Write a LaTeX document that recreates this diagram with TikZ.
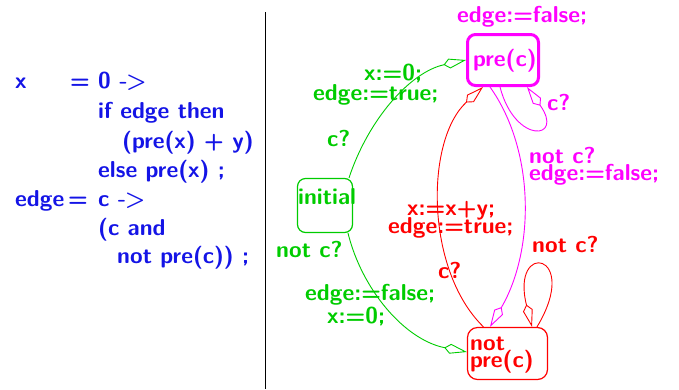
\documentclass[tikz,border=0pt]{standalone}
\usetikzlibrary{arrows.meta}
\definecolor{cblue}{RGB}{20,20,230}
\definecolor{cgreen}{RGB}{0,204,0}
\definecolor{cmag}{RGB}{255,0,255}
\definecolor{cred}{RGB}{255,0,0}
\newcommand{\myarr}{-\kern-1.5pt>}
\begin{document}
\begin{tikzpicture}[x=1pt,y=-1pt,
  txt/.style={inner sep=0pt, anchor=base west, font=\fontsize{23}{20}\selectfont\sffamily\bfseries},
  box/.style={draw, rounded corners=8pt, inner sep=0pt},
  tr/.style={-{Kite[open,length=23pt,width=10pt,inset=6pt]}, line width=0.9pt},
]
\useasboundingbox (0,0) rectangle (679,389);
% separator
\draw[line width=1pt] (265,12) coordinate (s1) -- (265,389) coordinate (s2);
% program text
\begin{scope}[cblue]
\node[txt] (l1a) at (15,88) {x};
\node[txt] (l1b) at (70,88) {=};
\node[txt] (l1c) at (98,88) {0 \myarr};
\node[txt] (l2) at (98,118) {if edge then};
\node[txt] (l3) at (122,148) {(pre(x) + y)};
\node[txt] (l4) at (98,177) {else pre(x) ;};
\node[txt] (l5a) at (15,206) {edge};
\node[txt] (l5b) at (68,206) {=};
\node[txt] (l5c) at (98,206) {c \myarr};
\node[txt] (l6) at (98,235) {(c and};
\node[txt] (l7) at (117,263) {not pre(c)) ;};
\end{scope}
% states
\node[box, cmag, line width=3pt, minimum width=71pt, minimum height=51pt] (pc) at (503,60) {};
\node[txt, cmag] (pct) at (473,66) {pre(c)};
\node[txt, cmag] (pcl) at (457,22) {edge:=false;};
\node[box, cgreen, line width=1.2pt, minimum width=55pt, minimum height=54pt] (init) at (325,205.5) {};
\node[txt, cgreen] (initt) at (298,204) {initial};
\node[box, cred, line width=1.2pt, minimum width=80pt, minimum height=52pt, rounded corners=10pt] (np) at (507.5,353.5) {};
\node[txt, cred] (npt1) at (470,350) {not};
\node[txt, cred] (npt2) at (470,367) {pre(c)};
% green transitions
\draw[tr, cgreen] ([xshift=24pt]init.north) .. controls (368,120) and (410,72) .. (pc.west);
\node[txt, cgreen] (g1) at (364,80) {x:=0;};
\node[txt, cgreen] (g2) at (313,100) {edge:=true;};
\node[txt, cgreen] (g3) at (327,146) {c?};
\draw[tr, cgreen] ([xshift=23pt]init.south) .. controls (362,290) and (405,340) .. ([yshift=1.5pt]np.west);
\node[txt, cgreen] (g4) at (276,257) {not c?};
\node[txt, cgreen] (g5) at (305,300) {edge:=false;};
\node[txt, cgreen] (g6) at (327,323) {x:=0;};
% red transitions
\draw[tr, cred] ([xshift=-24pt]np.north) .. controls (425,270) and (425,140) .. ([xshift=-20pt]pc.south);
\node[txt, cred] (r1) at (407,215) {x:=x+y;};
\node[txt, cred] (r2) at (388,233) {edge:=true;};
\node[txt, cred] (r3) at (438,278) {c?};
\draw[tr, cred] ([xshift=29.5pt]np.north) .. controls (582,252) and (510,240) .. ([xshift=24.5pt]np.north);
\node[txt, cred] (r4) at (532,252) {not c?};
% magenta transitions
\draw[tr, cmag] ([xshift=-13pt]pc.south) .. controls (535,150) and (535,250) .. ([xshift=-17.5pt]np.north);
\node[txt, cmag] (m1) at (529,163) {not c?};
\node[txt, cmag] (m2) at (529,180) {edge:=false;};
\draw[tr, cmag] ([xshift=-3pt]pc.south) .. controls (515,145) and (565,140) .. ([xshift=24pt]pc.south);
\node[txt, cmag] (m3) at (547,110) {c?};
\end{tikzpicture}
\end{document}
